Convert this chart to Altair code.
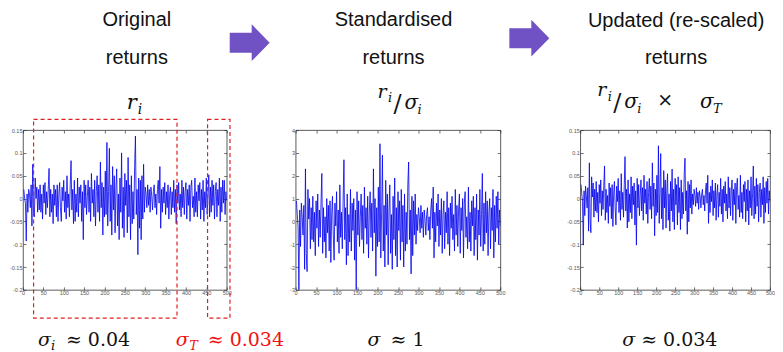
import altair as alt
import pandas as pd

# ---------------- data ----------------
T_VALUES = list(range(2, 501, 2))

ORIGINAL_RETURNS = [
    0.02, 0.00, -0.01, -0.093, 0.01, -0.03, 0.02, 0.01, -0.02, 0.03,
    -0.06, 0.075, -0.03, -0.04, 0.045, 0.0, 0.025, -0.03, 0.02, -0.025,
    0.03, -0.03, 0.01, -0.045, 0.03, -0.01, 0.035, -0.035, 0.015, -0.02,
    0.02, 0.066, -0.04, 0.02, -0.03, 0.01, -0.055, 0.03, -0.015, 0.02,
    -0.04, 0.03, -0.05, 0.01, 0.035, -0.02, -0.05, 0.025, -0.005, 0.04,
    -0.03, 0.015, -0.045, 0.05, -0.02, 0.01, -0.04, 0.03, 0.083, -0.025,
    0.02, -0.055, 0.04, -0.05, 0.01, -0.03, 0.045, -0.04, 0.025, -0.01,
    0.03, -0.05, 0.015, -0.09, 0.04, -0.02, 0.03, -0.035, 0.005, 0.04,
    -0.03, 0.025, -0.05, 0.055, -0.01, 0.02, -0.04, 0.04, -0.06, 0.015,
    0.05, -0.03, 0.03, -0.05, 0.08, -0.02, 0.035, -0.08, 0.025, -0.04,
    0.06, -0.035, 0.123, -0.06, 0.015, 0.11, -0.05, 0.03, -0.08, 0.07,
    -0.025, 0.05, -0.075, 0.02, 0.065, -0.06, 0.01, -0.09, 0.045, -0.03,
    0.1, -0.065, 0.025, -0.085, 0.055, -0.015, 0.04, -0.075, 0.09, -0.04,
    0.03, -0.09, 0.05, -0.055, 0.015, -0.045, 0.07, 0.137, -0.035, 0.02,
    -0.123, 0.045, -0.065, 0.04, -0.09, 0.05, -0.045, 0.075, -0.03, 0.025,
    0.01, -0.02, 0.03, -0.015, 0.02, -0.03, 0.025, 0.005, -0.025, 0.015,
    0.03, -0.02, 0.01, -0.035, 0.02, 0.04, -0.01, 0.07, -0.065, 0.02,
    -0.03, 0.025, -0.01, 0.035, -0.035, 0.015, -0.02, 0.03, -0.045, 0.01,
    0.025, -0.035, 0.015, -0.02, 0.04, -0.03, 0.02, -0.055, 0.03, -0.01,
    0.035, -0.025, 0.01, -0.04, 0.04, -0.02, 0.025, -0.035, 0.015, 0.035,
    -0.045, 0.02, -0.015, 0.03, -0.05, 0.025, 0.04, -0.02, 0.005, -0.04,
    0.045, -0.03, 0.015, -0.04, 0.03, -0.005, 0.035, -0.045, 0.02, -0.025,
    0.04, -0.05, 0.015, -0.02, 0.045, -0.035, 0.01, 0.052, -0.04, 0.025,
    -0.03, 0.04, -0.015, 0.03, -0.045, 0.015, 0.035, -0.04, 0.02, -0.015,
    0.045, -0.05, 0.025, -0.03, 0.04, -0.01, 0.04, -0.035, 0.015, -0.005,
]

STANDARDISED_RETURNS = [
    0.9, 0.3, -0.2, -3.0, 0.5, -1.1, 0.8, 0.2, -0.6, 0.7,
    -2.1, 2.3, -1.4, -2.2, 1.4, 0.1, 1.0, -1.2, 0.6, -0.8,
    1.1, -0.9, 0.4, -1.5, 0.9, -0.3, 1.2, -1.1, 0.5, -0.7,
    0.8, 2.1, -1.4, 0.6, -0.9, 0.2, -1.6, 1.0, -0.5, 0.7,
    -1.3, 0.9, -1.8, 0.3, 1.1, -0.6, -1.7, 0.8, -0.2, 1.3,
    -0.9, 0.5, -1.4, 1.6, -0.7, 0.4, -1.2, 0.9, 2.7, -0.8,
    0.6, -1.9, 1.2, -1.5, 0.3, -0.9, 1.4, -1.3, 0.8, -0.4,
    1.0, -1.7, 0.5, -3.0, 1.3, -0.6, 0.9, -1.1, 0.2, 1.2,
    -0.8, 0.7, -1.4, 1.5, -0.3, 0.6, -1.0, 1.1, -1.6, 0.4,
    1.3, -0.7, 0.8, -1.3, 2.3, -0.5, 1.0, -2.4, 0.6, -1.1,
    1.5, -0.9, 3.4, -1.6, 0.4, 2.9, -1.3, 0.7, -2.0, 1.8,
    -0.6, 1.2, -1.9, 0.5, 1.6, -1.4, 0.3, -2.1, 1.1, -0.8,
    1.9, -1.5, 0.6, -2.0, 1.3, -0.4, 0.9, -1.7, 1.4, -0.9,
    0.7, -2.0, 1.2, -1.3, 0.4, -1.0, 1.6, 2.6, -0.8, 0.5,
    -2.3, 1.1, -1.5, 0.9, -0.6, 1.2, -1.0, 0.3, -0.4, 0.6,
    0.2, -0.5, 0.7, -0.3, 0.4, -0.7, 0.5, 0.1, -0.6, 0.3,
    0.6, -0.4, 0.2, -0.8, 0.5, 1.0, -0.3, 1.5, -1.6, 0.4,
    -0.9, 0.8, -0.2, 1.2, -1.1, 0.5, -0.6, 1.0, -1.4, 0.3,
    0.9, -1.2, 0.4, -0.5, 1.3, -1.0, 0.6, -1.5, 0.8, -0.3,
    1.1, -0.8, 0.3, -1.3, 1.4, -0.6, 0.7, -1.1, 0.5, 1.2,
    -1.4, 0.6, -0.4, 1.0, -1.6, 0.8, 1.3, -0.7, 0.2, -1.2,
    1.5, -0.9, 0.4, -1.3, 0.9, -0.2, 1.1, -1.5, 0.6, -0.8,
    1.2, -1.7, 0.5, -0.6, 1.4, -1.1, 0.3, 2.1, -1.3, 0.8,
    -1.0, 1.3, -0.5, 0.9, -1.5, 0.4, 1.0, -1.2, 0.6, -0.4,
    1.4, -1.6, 0.7, -0.9, 1.1, -0.3, 1.3, -1.0, 0.5, -0.2,
]

SIGMA_T = 0.034

X_TICKS = list(range(0, 501, 50))
Y_TICKS_RET = [-0.2, -0.15, -0.1, -0.05, 0, 0.05, 0.1, 0.15]
Y_TICKS_STD = [-3, -2, -1, 0, 1, 2, 3, 4]

WINDOW_START = [26, 453]
WINDOW_END = [378, 508]

# ---------------- layout (page pixel coords) ----------------
ORX, ORY = 22, 129  # top-left of first plot area on the page
P1_W, P2_W, P3_W, PANEL_H = 204, 205, 190, 160
GAP1, GAP2 = 69, 80

TITLES = [
    ("Original", 136, 25), ("returns", 136, 63),
    ("Standardised", 393, 25), ("returns", 393, 63),
    ("Updated (re-scaled)", 676, 26), ("returns", 676, 63),
]
BLACK = "#111111"
RED = "#EE1111"
MATH_ITALIC = [
    ("r", 126, 108, 21, BLACK), ("i", 137, 113, 14, BLACK),
    ("r", 377, 97, 19, BLACK), ("i", 387.5, 101, 13, BLACK),
    ("σ", 404, 108, 20, BLACK), ("i", 417, 113, 13, BLACK),
    ("r", 597, 95, 19, BLACK), ("i", 607.5, 100, 13, BLACK),
    ("σ", 624, 107, 20, BLACK), ("i", 637, 112, 13, BLACK),
    ("σ", 700, 107, 20, BLACK), ("T", 713, 112, 13, BLACK),
    ("σ", 37, 345, 19, BLACK), ("i", 50, 349, 13, BLACK),
    ("σ", 175, 345, 19, RED), ("T", 188.5, 349, 13, RED),
    ("σ", 367, 345, 19, BLACK),
    ("σ", 622, 345, 19, BLACK),
]
MATH_REGULAR = [
    ("/", 393, 111, 24, BLACK), ("/", 613, 110, 24, BLACK),
    ("×", 657, 105, 19, BLACK),
    ("≈ 0.04", 65, 345, 19, BLACK), ("≈ 0.034", 207, 345, 19, RED),
    ("≈ 1", 390, 345, 19, BLACK), ("≈ 0.034", 641, 345, 19, BLACK),
]
ARROWS = [(249, 41.5), (529, 37)]
ARROW_PATH = "M-1,-0.5L0.1,-0.5L0.1,-0.92L1,0L0.1,0.92L0.1,0.5L-1,0.5Z"

series = pd.DataFrame({"t": T_VALUES, "orig": ORIGINAL_RETURNS, "z": STANDARDISED_RETURNS})
windows = pd.DataFrame({"start": WINDOW_START, "end": WINDOW_END})

XS = alt.Scale(domain=[0, 500], nice=False, zero=False)
FRAME = alt.ViewBackground(stroke="#333", strokeWidth=0.8)
NOFRAME = alt.ViewBackground(stroke="transparent")


def main_axis(orient, values):
    return alt.Axis(orient=orient, values=values, offset=-3, tickSize=3, tickWidth=0.7,
                    tickColor="#333", domain=False, grid=False, labelFont="Liberation Sans",
                    labelFontSize=5.5, labelColor="#555", labelPadding=1,
                    labelExpr="'' + datum.value", labelFlush=False, labelOverlap=False, title=None)


def tick_axis(orient, values):
    return alt.Axis(orient=orient, values=values, offset=-3, tickSize=3, tickWidth=0.7,
                    tickColor="#333", domain=False, grid=False, labels=False, title=None)


def panel(field, ydom, yticks, w, extra=(), calc=None):
    ys = alt.Scale(domain=ydom, nice=False, zero=False)

    def base():
        c = alt.Chart(series)
        if calc is not None:
            c = c.transform_calculate(**{field: calc})
        return c

    line = base().mark_line(color="#0000EE", strokeWidth=0.8, clip=True).encode(
        x=alt.X("t:Q", scale=XS, axis=main_axis("bottom", X_TICKS)),
        y=alt.Y(f"{field}:Q", scale=ys, axis=main_axis("left", yticks)),
    )
    ticks = base().mark_line(strokeOpacity=0).encode(
        x=alt.X("t:Q", scale=XS, axis=tick_axis("top", X_TICKS)),
        y=alt.Y(f"{field}:Q", scale=ys, axis=tick_axis("right", yticks)),
    )
    return alt.layer(line, ticks, *extra).resolve_axis(
        x="independent", y="independent").properties(width=w, height=PANEL_H, view=FRAME)


def spacer(w):
    return alt.Chart(pd.DataFrame({"a": [0]})).mark_point(opacity=0).encode(
        x=alt.value(0), y=alt.value(0)
    ).properties(width=w, height=PANEL_H, view=NOFRAME)


def rel(rows, cols):
    recs = []
    for r in rows:
        d = dict(zip(cols, r))
        d["px"] = d["px"] - ORX
        d["py"] = d["py"] - ORY
        recs.append(d)
    return pd.DataFrame(recs)


def text_layer(rows, font, style, align="left"):
    df = rel(rows, ["txt", "px", "py", "fs", "col"])
    return alt.Chart(df).mark_text(font=font, fontStyle=style, align=align,
                                   baseline="alphabetic").encode(
        x=alt.X("px:Q", scale=None, axis=None),
        y=alt.Y("py:Q", scale=None, axis=None),
        text="txt:N",
        size=alt.Size("fs:Q", scale=None, legend=None),
        color=alt.Color("col:N", scale=None, legend=None),
    )


titles = alt.Chart(rel(TITLES, ["txt", "px", "py"])).mark_text(
    font="Liberation Sans", fontSize=20, color=BLACK, align="center", baseline="alphabetic"
).encode(x=alt.X("px:Q", scale=None, axis=None), y=alt.Y("py:Q", scale=None, axis=None), text="txt:N")

italic = text_layer(MATH_ITALIC, "DejaVu Serif", "italic")
regular = text_layer(MATH_REGULAR, "DejaVu Serif", "normal")

arrows = alt.Chart(rel(ARROWS, ["px", "py"])).mark_point(
    shape=ARROW_PATH, filled=True, size=1600, color="#7052C4", opacity=1
).encode(x=alt.X("px:Q", scale=None, axis=None), y=alt.Y("py:Q", scale=None, axis=None))

boxes = alt.Chart(windows).mark_rect(
    fill="transparent", stroke="#E02020", strokeWidth=1.2, strokeDash=[4, 3]
).encode(
    x=alt.X("start:Q", scale=XS, axis=None), x2="end:Q",
    y=alt.value(118.3 - ORY), y2=alt.value(317.3 - ORY),
)

anchor = alt.Chart(pd.DataFrame({"a": [0]})).mark_point(
    filled=True, size=1, color="white", opacity=1
).encode(x=alt.value(-13.5), y=alt.value(-120.5))

p1 = panel("orig", [-0.2, 0.15], Y_TICKS_RET, P1_W, extra=(boxes, titles, italic, regular, arrows, anchor))
p2 = panel("z", [-3, 4], Y_TICKS_STD, P2_W)
p3 = panel("scaled", [-0.2, 0.15], Y_TICKS_RET, P3_W, calc=f"datum.z * {SIGMA_T}")

chart = alt.hconcat(
    p1, spacer(GAP1), p2, spacer(GAP2), p3, spacing=0, bounds="flush"
).properties(padding=0, background="white")

chart.save("out.html", embed_options={"renderer": "svg", "actions": False})
